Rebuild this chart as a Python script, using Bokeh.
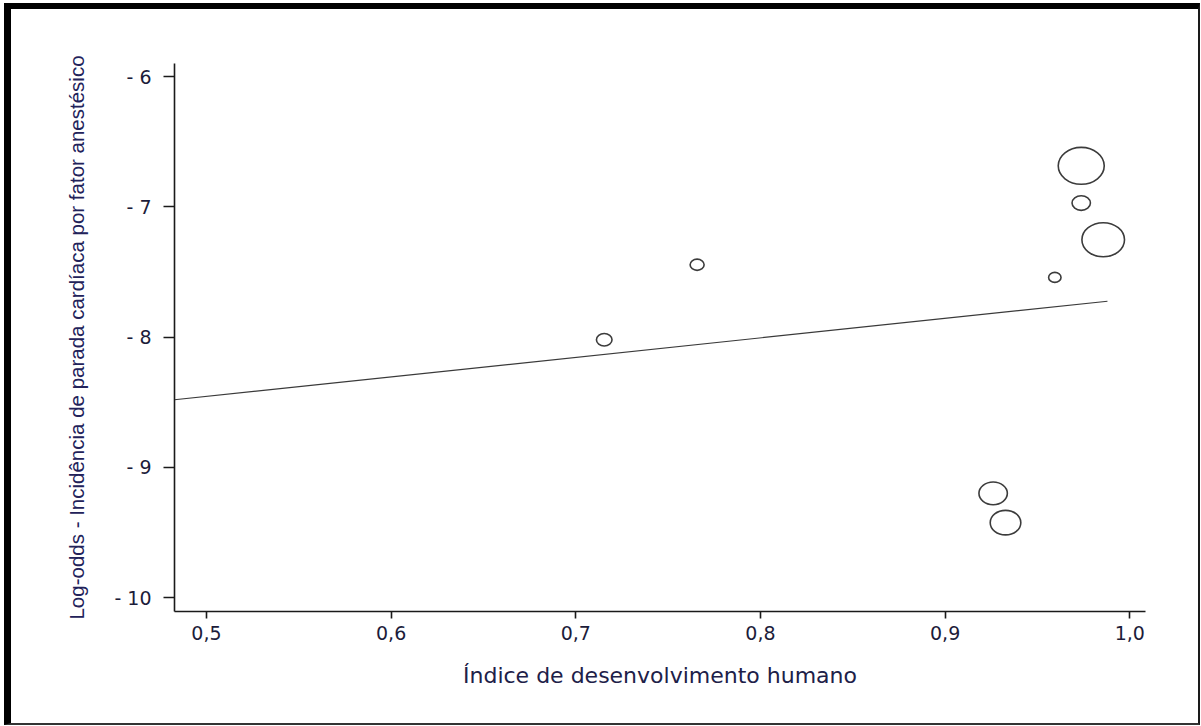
from bokeh.plotting import figure
from bokeh.models import ColumnDataSource, Range1d, FixedTicker, CustomJSTickFormatter
from bokeh.embed import file_html
from bokeh.resources import INLINE

# ---- data ----
idh = [0.7154, 0.7657, 0.9260, 0.9327, 0.9594, 0.9737, 0.9737, 0.9856]
log_odds = [-8.020, -7.444, -9.200, -9.425, -7.541, -6.684, -6.970, -7.252]
peso = [2.43, 1.96, 8.07, 9.36, 1.54, 21.16, 3.39, 18.15]   # relative study weights (bubble area)

reg_intercepto = -9.204
reg_inclinacao = 1.498
reg_x = [0.4827, 0.9879]

x_ticks = [0.5, 0.6, 0.7, 0.8, 0.9, 1.0]
x_tick_labels = ["0,5", "0,6", "0,7", "0,8", "0,9", "1,0"]
y_ticks = [-6, -7, -8, -9, -10]
y_tick_labels = ["- 6", "- 7", "- 8", "- 9", "- 10"]

x_title = "Índice de desenvolvimento humano"
y_title = "Log-odds - Incidência de parada cardíaca por fator anestésico"

# ---- styles ----
W, H = 1187, 714
diam = [10.0 * (w ** 0.5) for w in peso]
src = ColumnDataSource(dict(x=idh, y=log_odds,
                            w=diam, h=[d * 0.8 for d in diam]))

p = figure(width=W, height=H, output_backend="svg", toolbar_location=None,
           x_range=Range1d(0.4827, 1.0085), y_range=Range1d(-10.1075, -5.898),
           min_border_left=163, min_border_right=62, min_border_top=54, min_border_bottom=120)

# outer picture frame: thick black left/top, thin dark right/bottom
p.styles = {"margin-left": "4px", "margin-top": "3px",
            "border-left": "7px solid #000", "border-top": "6px solid #000",
            "border-right": "2px solid #1a1a1a", "border-bottom": "2px solid #333",
            "box-sizing": "content-box"}

p.background_fill_color = "white"
p.border_fill_color = "white"
p.outline_line_color = None
p.xgrid.visible = False
p.ygrid.visible = False

ly = [reg_intercepto + reg_inclinacao * v for v in reg_x]
p.line(reg_x, ly, line_color="#3a3a3a", line_width=1.2)

p.ellipse(x="x", y="y", width="w", height="h", width_units="screen", height_units="screen",
          fill_color=None, line_color="#3c3c3c", line_width=1.6, source=src)

tick_font = "DejaVu Sans"
for ax in (p.xaxis[0], p.yaxis[0]):
    ax.axis_line_color = "#1a1a1a"
    ax.axis_line_width = 1.6
    ax.major_tick_line_color = "#1a1a1a"
    ax.major_tick_line_width = 1.6
    ax.minor_tick_line_color = None
    ax.major_tick_in = 0
    ax.major_label_text_font = tick_font
    ax.major_label_text_font_size = "19px"
    ax.major_label_text_color = "#1c1c3a"
    ax.axis_label_text_font_style = "normal"

fmt_code = """
const i = tv.findIndex(t => Math.abs(t - tick) < 1e-9);
return i >= 0 ? lbl[i] : '';
"""
p.xaxis[0].ticker = FixedTicker(ticks=x_ticks)
p.xaxis[0].formatter = CustomJSTickFormatter(args=dict(tv=x_ticks, lbl=x_tick_labels), code=fmt_code)
p.xaxis[0].major_tick_out = 7
p.xaxis[0].major_label_standoff = 7
p.xaxis[0].axis_label = x_title
p.xaxis[0].axis_label_text_font = "DejaVu Sans"
p.xaxis[0].axis_label_text_font_size = "22px"
p.xaxis[0].axis_label_text_color = "#202048"
p.xaxis[0].axis_label_standoff = 20

p.yaxis[0].ticker = FixedTicker(ticks=y_ticks)
p.yaxis[0].formatter = CustomJSTickFormatter(args=dict(tv=y_ticks, lbl=y_tick_labels), code=fmt_code)
p.yaxis[0].major_tick_out = 11
p.yaxis[0].major_label_standoff = 12
p.yaxis[0].axis_label = y_title
p.yaxis[0].axis_label_text_font = "Liberation Sans"
p.yaxis[0].axis_label_text_font_size = "20.5px"
p.yaxis[0].axis_label_text_color = "#22225a"
p.yaxis[0].axis_label_standoff = 23

open("out.html", "w").write(file_html(p, INLINE))
